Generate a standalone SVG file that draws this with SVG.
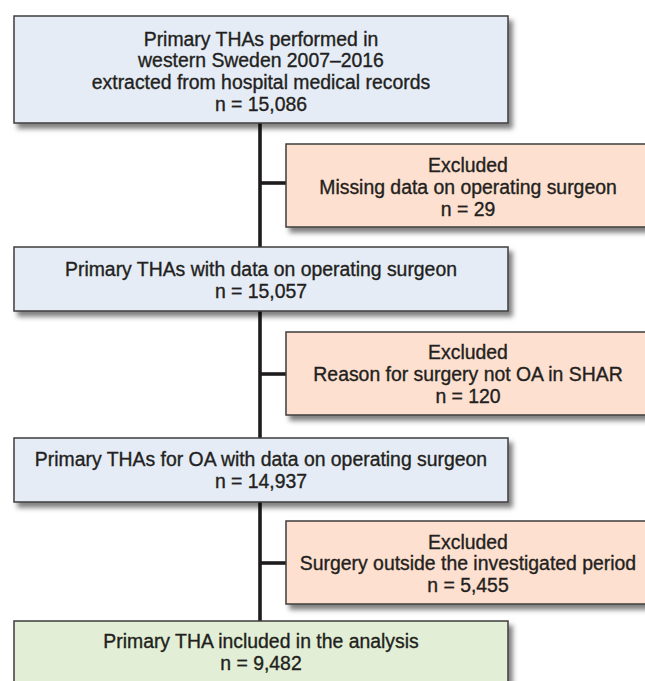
<svg xmlns="http://www.w3.org/2000/svg" width="645" height="681" viewBox="0 0 645 681">
  <defs>
    <filter id="shadow" x="-10%" y="-20%" width="130%" height="160%">
      <feDropShadow dx="4" dy="5" stdDeviation="2.5" flood-color="#000" flood-opacity="0.5"/>
    </filter>
    <style>
      .box { stroke: #3d3d3d; stroke-width: 1.5; filter: url(#shadow); }
      .blue { fill: #e5ecf6; }
      .orange { fill: #fde0cf; }
      .green { fill: #e2efd6; }
      .conn { stroke: #1e1b1c; stroke-width: 3.6; fill: none; }
      text { font-family: "Liberation Sans", Arial, sans-serif; font-size: 19.4px; fill: #231f20; stroke: #231f20; stroke-width: 0.35; text-anchor: middle; }
    </style>
  </defs>
  <rect width="645" height="681" fill="#ffffff"/>

  <!-- connectors: trunk and side branches -->
  <g id="connectors">
    <line class="conn" x1="260" y1="123" x2="260" y2="622"/>
    <line class="conn" x1="260" y1="183" x2="287" y2="183"/>
    <line class="conn" x1="260" y1="374" x2="287" y2="374"/>
    <line class="conn" x1="260" y1="563" x2="287" y2="563"/>
  </g>

  <g id="start">
    <rect class="box blue" x="14" y="16" width="494" height="107"/>
    <text x="261" y="45.5">Primary THAs performed in</text>
    <text x="261" y="67">western Sweden 2007–2016</text>
    <text x="261" y="88.5">extracted from hospital medical records</text>
    <text x="261" y="110.5">n = 15,086</text>
  </g>

  <g id="excl-surgeon">
    <rect class="box orange" x="286" y="144" width="370" height="83"/>
    <text x="468" y="172">Excluded</text>
    <text x="468" y="194">Missing data on operating surgeon</text>
    <text x="468" y="216">n = 29</text>
  </g>

  <g id="with-surgeon">
    <rect class="box blue" x="14" y="247" width="494" height="64"/>
    <text x="261" y="276">Primary THAs with data on operating surgeon</text>
    <text x="261" y="298">n = 15,057</text>
  </g>

  <g id="excl-reason">
    <rect class="box orange" x="286" y="332" width="370" height="83"/>
    <text x="468" y="359">Excluded</text>
    <text x="468" y="380.5">Reason for surgery not OA in SHAR</text>
    <text x="468" y="402.5">n = 120</text>
  </g>

  <g id="oa-surgeon">
    <rect class="box blue" x="14" y="438" width="494" height="64"/>
    <text x="261" y="466">Primary THAs for OA with data on operating surgeon</text>
    <text x="261" y="488">n = 14,937</text>
  </g>

  <g id="excl-period">
    <rect class="box orange" x="286" y="521" width="370" height="83"/>
    <text x="468" y="548.5">Excluded</text>
    <text x="468" y="570">Surgery outside the investigated period</text>
    <text x="468" y="592">n = 5,455</text>
  </g>

  <g id="included">
    <rect class="box green" x="14" y="621" width="494" height="80"/>
    <text x="261" y="647.5">Primary THA included in the analysis</text>
    <text x="261" y="669.5">n = 9,482</text>
  </g>
</svg>
